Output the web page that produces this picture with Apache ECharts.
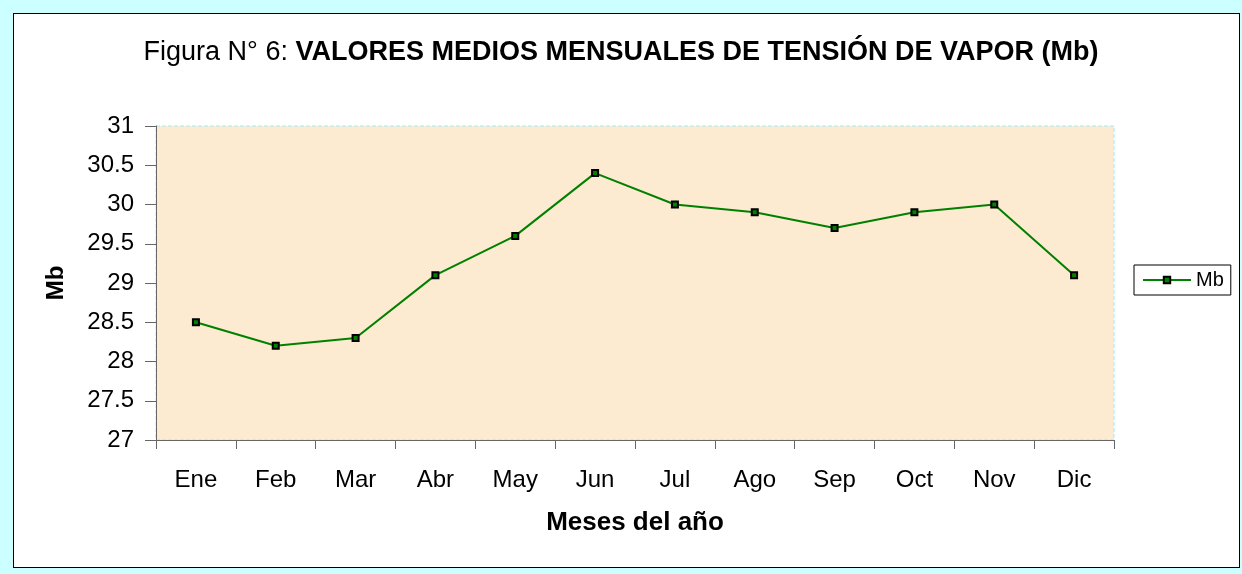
<!DOCTYPE html>
<html>
<head>
<meta charset="utf-8">
<script src="https://cdn.jsdelivr.net/npm/echarts@6/dist/echarts.min.js"></script>
<style>
  html, body { margin: 0; padding: 0; background: #ccffff; }
  .frame {
    position: absolute; left: 13px; top: 13px; width: 1225px; height: 553px;
    background: #fff; border: 1px solid #000;
  }
  #chart { position: absolute; left: 0; top: 0; width: 1242px; height: 574px; }
</style>
</head>
<body>
<div class="frame"></div>
<div id="chart"></div>
<script>
// meses y valores medios (Mb)
const months = ['Ene', 'Feb', 'Mar', 'Abr', 'May', 'Jun', 'Jul', 'Ago', 'Sep', 'Oct', 'Nov', 'Dic'];
const mbValues = [28.5, 28.2, 28.3, 29.1, 29.6, 30.4, 30.0, 29.9, 29.7, 29.9, 30.0, 29.1];
const yTicks = [27, 27.5, 28, 28.5, 29, 29.5, 30, 30.5, 31];

const font = 'Liberation Sans, Arial, sans-serif';
const chart = echarts.init(document.getElementById('chart'));

chart.setOption({
  backgroundColor: 'transparent',
  animation: false,
  textStyle: { fontFamily: font },
  title: {
    left: 'center',
    top: 34,
    text: '{a|Figura N° 6: }{b|VALORES MEDIOS MENSUALES DE TENSIÓN DE VAPOR (Mb)}',
    textStyle: {
      fontFamily: font,
      fontSize: 27,
      fontWeight: 'normal',
      rich: {
        a: { fontFamily: font, fontSize: 27, fontWeight: 'normal', color: '#000' },
        b: { fontFamily: font, fontSize: 27, fontWeight: 'bold', color: '#000' }
      }
    }
  },
  legend: {
    left: 1134,
    top: 265,
    orient: 'vertical',
    data: ['Mb'],
    backgroundColor: '#fff',
    borderColor: '#000',
    borderWidth: 1,
    borderRadius: 0,
    padding: [5, 7, 5, 8],
    itemWidth: 48,
    itemHeight: 8,
    itemGap: 4,
    textStyle: { fontFamily: font, fontSize: 20, color: '#000' }
  },
  grid: {
    left: 156,
    right: 128,
    top: 126,
    bottom: 134,
    show: true,
    backgroundColor: '#fcebd0',
    borderColor: '#99eeff',
    borderWidth: 1,
    borderType: 'dashed'
  },
  xAxis: {
    type: 'category',
    data: months,
    boundaryGap: true,
    name: 'Meses del año',
    nameLocation: 'middle',
    nameGap: 70,
    nameTextStyle: { fontFamily: font, fontSize: 26, fontWeight: 'bold', color: '#000' },
    axisLine: { lineStyle: { color: '#666', width: 1 } },
    axisTick: { show: true, length: 9, lineStyle: { color: '#666' } },
    axisLabel: { fontFamily: font, fontSize: 24, color: '#000', margin: 28 },
    splitLine: { show: false }
  },
  yAxis: {
    type: 'value',
    min: 27,
    max: 31,
    interval: 0.5,
    name: 'Mb',
    nameLocation: 'middle',
    nameRotate: 90,
    nameGap: 88,
    nameTextStyle: { fontFamily: font, fontSize: 24, fontWeight: 'bold', color: '#000' },
    axisLine: { show: true, lineStyle: { color: '#666', width: 1 } },
    axisTick: { show: true, length: 11, lineStyle: { color: '#666' } },
    axisLabel: {
      fontFamily: font, fontSize: 24, color: '#000', margin: 22,
      formatter: v => yTicks.includes(v) ? String(v) : ''
    },
    splitLine: { show: false }
  },
  series: [{
    name: 'Mb',
    type: 'line',
    data: mbValues,
    symbol: 'rect',
    symbolSize: 6,
    lineStyle: { color: '#008000', width: 2 },
    itemStyle: { color: '#008000', borderColor: '#000', borderWidth: 2 }
  }]
});
</script>
</body>
</html>
